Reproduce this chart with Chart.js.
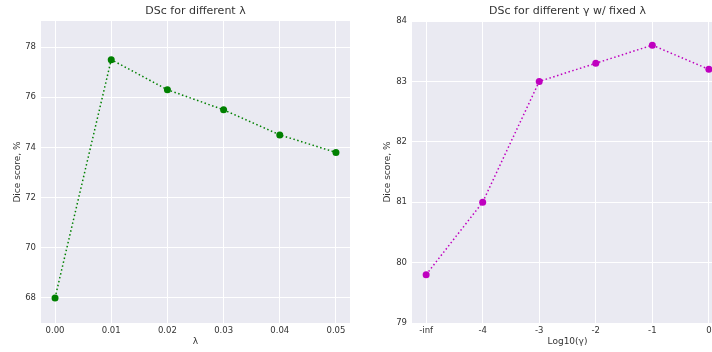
<!DOCTYPE html>
<html>
<head>
<meta charset="utf-8">
<script src="https://cdn.jsdelivr.net/npm/chart.js@4"></script>
<style>
  html, body { margin: 0; padding: 0; background: #ffffff; }
  body { width: 712px; height: 352px; overflow: hidden; position: relative; }
  #leftBox { position: absolute; left: 0; top: 0; width: 356px; height: 352px; }
  #rightBox { position: absolute; left: 356px; top: 0; width: 374px; height: 352px; }
</style>
</head>
<body>
<div id="leftBox"><canvas id="lambdaChart" width="356" height="352"></canvas></div>
<div id="rightBox"><canvas id="gammaChart" width="374" height="352"></canvas></div>
<script>
// Данные: левый график (λ)
const lambdaValues = [0.0, 0.01, 0.02, 0.03, 0.04, 0.05];
const diceByLambda = [68.0, 77.5, 76.3, 75.5, 74.5, 73.8];
const lambdaTicks = [0.0, 0.01, 0.02, 0.03, 0.04, 0.05];
const lambdaDiceTicks = [68, 70, 72, 74, 76, 78];

// Данные: правый график (γ)
const gammaLabels = ["-inf", "-4", "-3", "-2", "-1", "0"];
const diceByGamma = [79.8, 81.0, 83.0, 83.3, 83.6, 83.2];
const gammaDiceTicks = [79, 80, 81, 82, 83, 84];

const FONT = "'DejaVu Sans', 'Liberation Sans', sans-serif";
const TEXT_COLOR = "#333333";
const PANEL_BG = "#eaeaf2";

// Фон области графика как в seaborn darkgrid
const panelBackground = {
  id: "panelBackground",
  beforeDraw(chart) {
    const { ctx, chartArea } = chart;
    ctx.save();
    ctx.fillStyle = PANEL_BG;
    ctx.fillRect(chartArea.left, chartArea.top,
      chartArea.right - chartArea.left, chartArea.bottom - chartArea.top);
    ctx.restore();
  },
};

function gridOptions() {
  return { color: "#ffffff", lineWidth: 1, drawTicks: false };
}

function buildChart(canvasId, cfg) {
  const ctx = document.getElementById(canvasId).getContext("2d");
  return new Chart(ctx, {
    type: "line",
    data: {
      datasets: [
        {
          data: cfg.points,
          borderColor: cfg.color,
          backgroundColor: cfg.color,
          borderWidth: 1.5,
          borderDash: [1.5, 2.5],
          pointRadius: 3.5,
          pointBorderWidth: 0,
          pointBackgroundColor: cfg.color,
          tension: 0,
        },
      ],
    },
    options: {
      responsive: false,
      animation: false,
      devicePixelRatio: 1,
      layout: { padding: { left: 0, right: cfg.padRight, top: 0, bottom: 0 } },
      plugins: {
        legend: { display: false },
        tooltip: { enabled: false },
        title: {
          display: true,
          text: cfg.title,
          fullSize: false,
          color: TEXT_COLOR,
          font: { family: FONT, size: 11, weight: "normal" },
          padding: { top: 5, bottom: 2.8 },
        },
      },
      scales: {
        x: {
          type: "linear",
          min: cfg.xMin,
          max: cfg.xMax,
          border: { display: false },
          grid: gridOptions(),
          afterBuildTicks: (s) => { s.ticks = cfg.xTicks.map((v) => ({ value: v })); },
          afterFit: (s) => { s.height = 29; },
          ticks: {
            color: TEXT_COLOR,
            font: { family: FONT, size: 8.5 },
            padding: 3,
            maxRotation: 0,
            autoSkip: false,
            callback: cfg.xFormat,
          },
          title: {
            display: true,
            text: cfg.xTitle,
            color: TEXT_COLOR,
            font: { family: FONT, size: 9 },
            padding: { top: 0, bottom: 4.6 },
          },
        },
        y: {
          type: "linear",
          min: cfg.yMin,
          max: cfg.yMax,
          border: { display: false },
          grid: gridOptions(),
          afterBuildTicks: (s) => { s.ticks = cfg.yTicks.map((v) => ({ value: v })); },
          afterFit: (s) => { s.width = cfg.yWidth; },
          ticks: {
            color: TEXT_COLOR,
            font: { family: FONT, size: 8.5 },
            padding: 5,
            autoSkip: false,
          },
          title: {
            display: true,
            text: "Dice score, %",
            color: TEXT_COLOR,
            font: { family: FONT, size: 9 },
            padding: { top: cfg.yTitlePad, bottom: 0 },
          },
        },
      },
    },
    plugins: [panelBackground],
  });
}

// Левый график: DSc для разных λ
buildChart("lambdaChart", {
  title: "DSc for different λ",
  color: "#008000",
  points: lambdaValues.map((x, i) => ({ x: x, y: diceByLambda[i] })),
  xMin: -0.0025,
  xMax: 0.0525,
  xTicks: lambdaTicks,
  xFormat: (v) => Number(v).toFixed(2),
  xTitle: "λ",
  yMin: 67,
  yMax: 79.04,
  yTicks: lambdaDiceTicks,
  yWidth: 41,
  yTitlePad: 12.6,
  padRight: 6,
});

// Правый график: DSc для разных γ при фиксированном λ
buildChart("gammaChart", {
  title: "DSc for different γ w/ fixed λ",
  color: "#bf00bf",
  points: gammaLabels.map((_, i) => ({ x: i, y: diceByGamma[i] })),
  xMin: -0.25,
  xMax: gammaLabels.length - 1 + 0.25,
  xTicks: gammaLabels.map((_, i) => i),
  xFormat: (v) => gammaLabels[Math.round(v)],
  xTitle: "Log10(γ)",
  yMin: 79,
  yMax: 84,
  yTicks: gammaDiceTicks,
  yWidth: 56,
  yTitlePad: 26.6,
  padRight: 7,
});
</script>
</body>
</html>
